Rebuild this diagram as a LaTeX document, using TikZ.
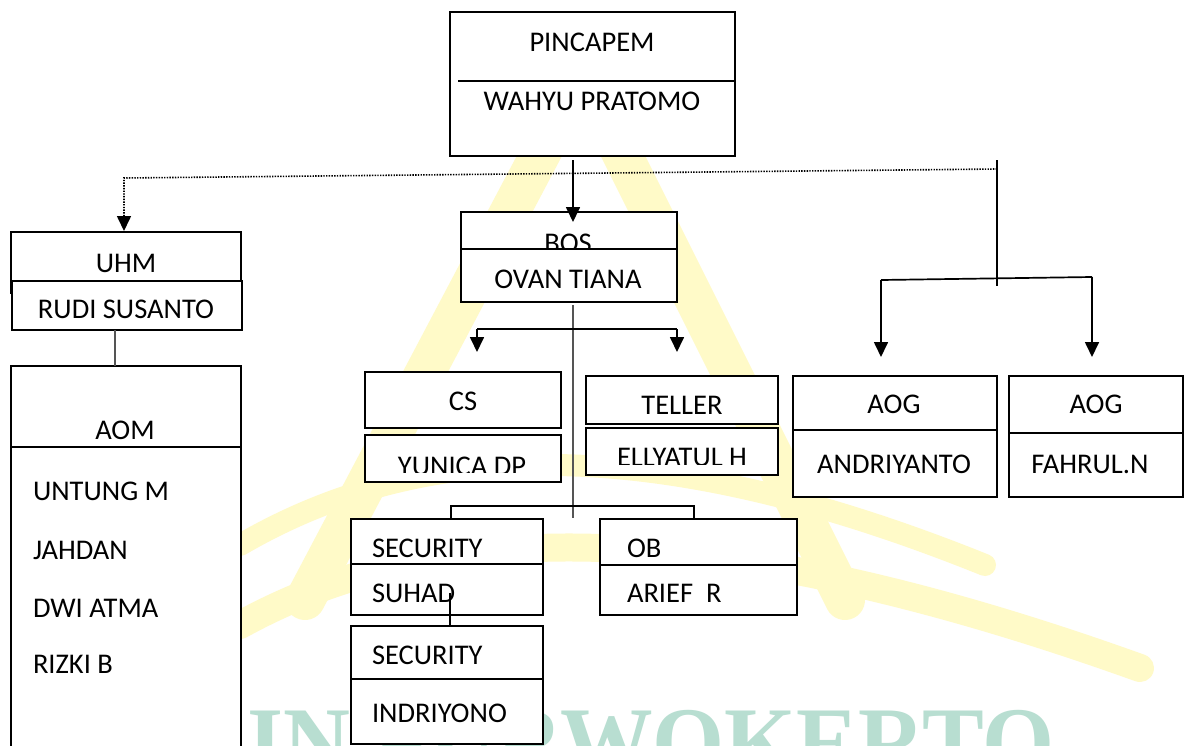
\documentclass[tikz,border=0pt]{standalone}
\usepackage{fontspec}
\setmainfont{Carlito}
\newfontfamily\wmserif{Liberation Serif}
\usetikzlibrary{arrows.meta}
\definecolor{wmyellow}{RGB}{255,250,200}
\definecolor{wmgreen}{RGB}{184,222,209}
\definecolor{linegray}{RGB}{85,85,85}
\newcommand\lblfont{\fontsize{28.5}{32}\selectfont}
\begin{document}
\begin{tikzpicture}[x=1pt,y=-1pt,
  box/.style={draw=black, line width=1.7pt, fill=white, rectangle, inner sep=0pt, outer sep=0pt, anchor=north west},
  lbl/.style={inner sep=0pt, outer sep=0pt, anchor=base, font=\lblfont, text=black},
  lblw/.style={lbl, anchor=base west},
  conn/.style={line width=1.7pt, draw=black},
  grayline/.style={line width=1.1pt, draw=linegray},
  arr/.style={conn, -{Triangle[width=14pt,length=15pt]}},
  dotarr/.style={line width=1.6pt, dash pattern=on 1.4pt off 1.3pt, -{Triangle[width=14pt,length=15pt]}},
  wmband/.style={draw=wmyellow, line cap=round}
]
\useasboundingbox (0,0) rectangle (1184,745);
\clip (0,0) rectangle (1184,745);
\fill[white] (0,0) rectangle (1184,745);

% ---------- watermark ----------
\draw[wmband, line width=40pt] (590,60) -- (305,600);
\draw[wmband, line width=40pt] (575,60) -- (845,600);
\draw[wmband, line width=22pt] (240,545) .. controls (420,440) and (650,430) .. (985,565);
\draw[wmband, line width=28pt] (240,625) .. controls (430,520) and (700,510) .. (1140,668);
\node[anchor=base west, inner sep=0pt, text=wmgreen, font=\wmserif\bfseries\fontsize{100}{100}\selectfont, xscale=0.926] (wm) at (144,776) {IAIN PURWOKERTO};

% ---------- PINCAPEM ----------
\node[box, minimum width=285pt, minimum height=144pt] (pinc) at (450,12) {};
\draw[conn] (458,81) -- (pinc.east |- 0,81);
\node[lbl] (pincT) at (592,51) {PINCAPEM};
\node[lbl] (pincN) at (592,110) {WAHYU PRATOMO};

% ---------- UHM ----------
\node[box, minimum width=230pt, minimum height=61pt] (uhm) at (11,232) {};
\node[lbl] (uhmT) at (126,272) {UHM};
\node[box, minimum width=230pt, minimum height=49pt] (uhmL) at (12,281) {};
\node[lbl] (uhmN) at (126,318) {RUDI SUSANTO};

% ---------- AOM ----------
\node[box, minimum width=230pt, minimum height=400pt, line width=2.1pt] (aom) at (11,366) {};
\draw[line width=1.2pt] (aom.west |- 0,447) -- (aom.east |- 0,447);
\node[lbl] (aomT) at (125,439) {AOM};
\node[lblw] (aom1) at (33,500) {UNTUNG M};
\node[lblw] (aom2) at (33,559) {JAHDAN};
\node[lblw] (aom3) at (33,617) {DWI ATMA};
\node[lblw] (aom4) at (33,673) {RIZKI B};

% ---------- BOS ----------
\node[box, minimum width=216pt, minimum height=90pt] (bos) at (461,212) {};
\node[lbl] (bosT) at (568,252) {BOS};
\node[box, minimum width=216pt, minimum height=53pt] (bosL) at (461,249) {};
\node[lbl] (bosN) at (568,288) {OVAN TIANA};

% ---------- CS ----------
\node[box, minimum width=196pt, minimum height=56pt] (cs) at (365,372) {};
\node[lbl] (csT) at (463,410) {CS};
\node[box, minimum width=196pt, minimum height=47pt] (yun) at (365,435) {};
\begin{scope}
\clip (365,435) rectangle (561,472);
\node[lbl] (yunN) at (462,475.5) {YUNICA DP};
\end{scope}

% ---------- TELLER ----------
\node[box, minimum width=192pt, minimum height=48pt] (tel) at (586,376) {};
\node[lbl] (telT) at (682,414) {TELLER};
\node[box, minimum width=192pt, minimum height=47pt] (ell) at (586,428) {};
\begin{scope}
\clip (586,428) rectangle (778,464.5);
\node[lbl] (ellN) at (682,466.5) {ELLYATUL H};
\end{scope}

% ---------- SECURITY 1 ----------
\node[box, minimum width=192pt, minimum height=96pt] (sec1) at (351,519) {};
\draw[conn] (sec1.west |- 0,564) -- (sec1.east |- 0,564);
\node[lblw] (sec1T) at (372,557) {SECURITY};
\node[lblw] (sec1N) at (372,602) {SUHAD};

% ---------- SECURITY 2 ----------
\node[box, minimum width=192pt, minimum height=118pt] (sec2) at (351,626) {};
\draw[line width=1.2pt] (sec2.west |- 0,679) -- (sec2.east |- 0,679);
\node[lblw] (sec2T) at (372,664) {SECURITY};
\node[lblw] (sec2N) at (372,722) {INDRIYONO};

% ---------- OB ----------
\node[box, minimum width=197pt, minimum height=96pt] (ob) at (600,519) {};
\draw[conn] (ob.west |- 0,565) -- (ob.east |- 0,565);
\node[lblw] (obT) at (627,557) {OB};
\node[lblw] (obN) at (627,602) {ARIEF\ \ R};

% ---------- AOG 1 ----------
\node[box, minimum width=204pt, minimum height=121pt] (aog1) at (793,376) {};
\draw[conn] (aog1.west |- 0,430) -- (aog1.east |- 0,430);
\node[lbl] (aog1T) at (894,413) {AOG};
\node[lbl] (aog1N) at (894,473) {ANDRIYANTO};

% ---------- AOG 2 ----------
\node[box, minimum width=174pt, minimum height=121pt] (aog2) at (1009,376) {};
\draw[conn] (aog2.west |- 0,433) -- (aog2.east |- 0,433);
\node[lbl] (aog2T) at (1096,413) {AOG};
\node[lbl] (aog2N) at (1090,473) {FAHRUL.N};

% ---------- connector coordinates ----------
\coordinate (pincOut) at (573,160);
\coordinate (bosIn) at (573,222);
\coordinate (dotR) at (997,169);
\coordinate (dotL) at (124,178);
\coordinate (uhmIn) at (124,231);
\coordinate (rTop) at (997,160);
\coordinate (rBot) at (997,286);
\coordinate (aogL) at (881,280);
\coordinate (aogR) at (1092,277);
\coordinate (aog1In) at (881,357);
\coordinate (aog2In) at (1092,357);
\coordinate (uhmOut) at (115,330);
\coordinate (aomIn) at (115,366);
\coordinate (bosOut) at (573,305);
\coordinate (midEnd) at (573,518);
\coordinate (csL) at (477,329);
\coordinate (csR) at (677,329);
\coordinate (csArr) at (477,352);
\coordinate (telArr) at (677,352);
\coordinate (secTop) at (451,519);
\coordinate (obTop) at (694,519);
\coordinate (hLow) at (451,506);
\coordinate (hLowR) at (694,506);
\coordinate (suhadOut) at (450,593);
\coordinate (sec2In) at (450,626);

% ---------- connectors ----------
\draw[arr] (pincOut) -- (bosIn);
\draw[dotarr] (dotR) -- (dotL) -- (uhmIn);
\draw[conn] (rTop) -- (rBot);
\draw[conn] (aogL) -- (aogR);
\draw[arr] (aogL) -- (aog1In);
\draw[arr] (aogR) -- (aog2In);
\draw[grayline] (uhmOut) -- (aomIn);
\draw[grayline] (bosOut) -- (midEnd);
\draw[conn] (csL) -- (csR);
\draw[arr] (csL) -- (csArr);
\draw[arr] (csR) -- (telArr);
\draw[conn] (secTop) -- (hLow) -- (hLowR) -- (obTop);
\draw[conn, line width=1.3pt] (suhadOut) -- (sec2In);
\end{tikzpicture}
\end{document}
